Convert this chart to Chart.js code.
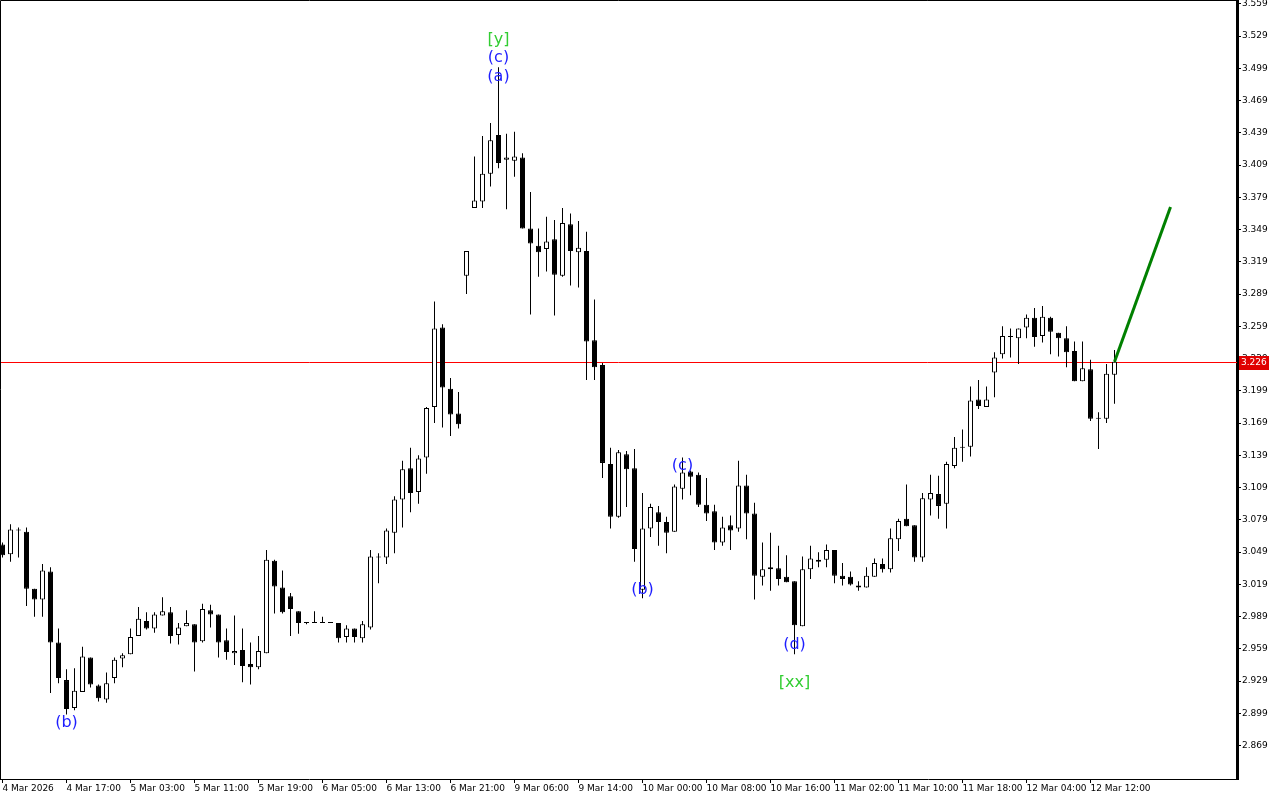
<!DOCTYPE html>
<html>
<head>
<meta charset="utf-8">
<script src="https://cdn.jsdelivr.net/npm/chart.js@4.4.1/dist/chart.umd.min.js"></script>
<style>
html,body{margin:0;padding:0;background:#ffffff;}
#wrap{width:1280px;height:800px;}
</style>
</head>
<body>
<div id="wrap"><canvas id="myChart" width="1280" height="800"></canvas></div>
<script>
//1時間足のローソク足データ（左から順番）
var open_values = [3.056,3.047,3.069,3.068,3.015,3.005,3.031,2.965,2.930,2.904,2.919,2.951,2.925,2.912,2.932,2.950,2.954,2.971,2.985,2.978,
    2.990,2.993,2.972,2.980,2.982,2.966,2.995,2.991,2.967,2.955,2.958,2.945,2.942,2.955,3.041,3.016,3.008,2.994,2.983,2.983,
    2.983,2.983,2.983,2.970,2.978,2.969,2.979,3.045,3.044,3.067,3.098,3.127,3.105,3.137,3.184,3.258,3.201,3.178,3.306,3.369,
    3.375,3.401,3.437,3.414,3.413,3.416,3.350,3.334,3.331,3.340,3.306,3.354,3.328,3.329,3.246,3.223,3.131,3.082,3.140,3.127,
    3.014,3.071,3.086,3.077,3.068,3.108,3.124,3.121,3.093,3.087,3.058,3.074,3.071,3.111,3.085,3.026,3.033,3.034,3.026,3.022,
    2.980,3.033,3.042,3.042,3.051,3.027,3.026,3.018,3.016,3.026,3.038,3.033,3.061,3.080,3.074,3.044,3.098,3.103,3.094,3.129,
    3.147,3.147,3.191,3.184,3.216,3.233,3.249,3.248,3.258,3.267,3.250,3.267,3.253,3.248,3.236,3.208,3.219,3.173,3.173,3.214];
var high_values = [3.058,3.075,3.072,3.072,3.015,3.038,3.035,2.978,2.940,2.941,2.961,2.951,2.926,2.937,2.951,2.955,2.978,2.998,2.993,2.993,
    3.007,2.998,2.983,2.995,2.982,3.001,3.000,2.991,2.978,2.990,2.978,2.965,2.971,3.051,3.042,3.032,3.011,2.994,2.983,2.994,
    2.989,2.983,2.983,2.981,2.978,2.985,3.051,3.048,3.071,3.101,3.134,3.146,3.139,3.184,3.282,3.261,3.211,3.198,3.329,3.417,
    3.436,3.448,3.500,3.438,3.440,3.420,3.384,3.350,3.361,3.358,3.369,3.364,3.357,3.347,3.284,3.225,3.146,3.144,3.143,3.145,
    3.104,3.094,3.092,3.082,3.112,3.137,3.125,3.123,3.118,3.093,3.082,3.083,3.134,3.121,3.095,3.058,3.067,3.055,3.046,3.022,
    3.045,3.055,3.049,3.056,3.051,3.039,3.031,3.022,3.035,3.043,3.043,3.071,3.080,3.112,3.074,3.104,3.121,3.120,3.133,3.156,
    3.163,3.203,3.209,3.203,3.235,3.259,3.257,3.257,3.270,3.276,3.278,3.268,3.253,3.259,3.245,3.245,3.228,3.179,3.224,3.237];
var low_values = [3.044,3.040,3.044,2.999,2.989,2.989,2.918,2.927,2.898,2.902,2.919,2.923,2.910,2.909,2.927,2.942,2.954,2.971,2.977,2.974,
    2.990,2.964,2.963,2.980,2.938,2.965,2.979,2.951,2.949,2.944,2.928,2.926,2.940,2.955,2.992,2.992,2.971,2.973,2.982,2.983,
    2.983,2.983,2.965,2.965,2.965,2.965,2.977,3.020,3.038,3.048,3.072,3.086,3.094,3.122,3.169,3.165,3.157,3.164,3.289,3.369,
    3.369,3.389,3.406,3.368,3.398,3.350,3.270,3.305,3.310,3.269,3.305,3.297,3.295,3.209,3.209,3.118,3.071,3.081,3.091,3.040,
    3.006,3.063,3.055,3.048,3.068,3.098,3.102,3.091,3.078,3.051,3.055,3.051,3.068,3.061,3.005,3.018,3.013,3.018,3.021,2.954,
    2.980,3.024,3.035,3.035,3.020,3.018,3.018,3.013,3.016,3.026,3.030,3.030,3.050,3.073,3.040,3.040,3.083,3.080,3.071,3.127,
    3.133,3.138,3.182,3.184,3.193,3.229,3.230,3.224,3.248,3.240,3.244,3.233,3.231,3.221,3.208,3.208,3.171,3.145,3.169,3.187];
var close_values = [3.046,3.070,3.069,3.015,3.005,3.032,2.965,2.932,2.903,2.920,2.952,2.926,2.913,2.927,2.949,2.953,2.970,2.987,2.978,2.991,
    2.994,2.971,2.979,2.983,2.965,2.996,2.991,2.965,2.956,2.957,2.943,2.942,2.957,3.042,3.017,2.993,2.996,2.983,2.983,2.983,
    2.983,2.983,2.969,2.978,2.970,2.982,3.045,3.044,3.069,3.098,3.126,3.104,3.136,3.183,3.257,3.202,3.177,3.168,3.329,3.376,
    3.401,3.432,3.411,3.416,3.417,3.350,3.336,3.328,3.338,3.307,3.355,3.329,3.332,3.245,3.221,3.132,3.082,3.142,3.126,3.052,
    3.071,3.091,3.077,3.067,3.110,3.123,3.119,3.093,3.085,3.058,3.072,3.069,3.111,3.085,3.027,3.033,3.035,3.024,3.021,2.981,
    3.033,3.043,3.040,3.051,3.027,3.024,3.019,3.016,3.027,3.039,3.033,3.062,3.078,3.073,3.044,3.099,3.104,3.092,3.131,3.146,
    3.146,3.190,3.185,3.191,3.230,3.250,3.249,3.257,3.267,3.249,3.268,3.254,3.248,3.235,3.208,3.220,3.173,3.173,3.215,3.226];

//横軸の目盛り（ローソク足の番号とラベル）
var x_tick_index = [0,8,16,24,32,40,48,56,64,72,80,88,96,104,112,120,128,136];
var x_tick_labels = ['4 Mar 2026','4 Mar 17:00','5 Mar 03:00','5 Mar 11:00','5 Mar 19:00','6 Mar 05:00','6 Mar 13:00','6 Mar 21:00',
    '9 Mar 06:00','9 Mar 14:00','10 Mar 00:00','10 Mar 08:00','10 Mar 16:00','11 Mar 02:00','11 Mar 10:00','11 Mar 18:00',
    '12 Mar 04:00','12 Mar 12:00'];
//縦軸の目盛り
var y_tick_values = [3.559,3.529,3.499,3.469,3.439,3.409,3.379,3.349,3.319,3.289,3.259,3.229,3.199,3.169,3.139,3.109,
    3.079,3.049,3.019,2.989,2.959,2.929,2.899,2.869];

//現在値のライン
var current_price = 3.226;
//予想の矢印（緑）
var forecast_index = [139, 146];
var forecast_values = [3.226, 3.370];

//波動のラベル
var wave_label_texts = ['(b)','[y]','(c)','(a)','(b)','(c)','(d)','[xx]'];
var wave_label_index = [8, 62, 62, 62, 80, 85, 99, 99];
var wave_label_values = [2.890, 3.525, 3.509, 3.491, 3.014, 3.129, 2.963, 2.927];
var wave_label_kind = ['sub','main','sub','sub','sub','sub','sub','main'];

//軸の範囲
var x_min = -0.3125;
var x_max = 154.3125;
var y_min = 2.838;
var y_max = 3.5625;

var tick_font = {family: 'DejaVu Sans', size: 9};

//ローソク足を作る
var wick_data = [];
var body_data = [];
var body_colors = [];
for (var i = 0; i < open_values.length; i++) {
    wick_data.push({x: i, y: [low_values[i], high_values[i]]});
    body_data.push({x: i, y: [open_values[i], close_values[i]]});
    body_colors.push(close_values[i] > open_values[i] ? '#ffffff' : '#000000');
}

//現在値ラインはローソクの後ろに描く
var price_line_plugin = {
    id: 'price_line',
    beforeDatasetsDraw: function(chart) {
        var ctx = chart.ctx;
        var area = chart.chartArea;
        var py = Math.round(chart.scales.y.getPixelForValue(current_price)) + 0.5;
        ctx.save();
        ctx.strokeStyle = '#ff0000';
        ctx.lineWidth = 1;
        ctx.beginPath();
        ctx.moveTo(area.left, py);
        ctx.lineTo(area.right, py);
        ctx.stroke();
        ctx.restore();
    }
};

//枠とラベルを描くプラグイン
var overlay_plugin = {
    id: 'overlay',
    afterDraw: function(chart) {
        var ctx = chart.ctx;
        var area = chart.chartArea;
        var xs = chart.scales.x;
        var ys = chart.scales.y;
        ctx.save();
        //左と上の枠
        ctx.strokeStyle = '#000000';
        ctx.lineWidth = 1;
        ctx.beginPath();
        ctx.moveTo(0.5, area.bottom);
        ctx.lineTo(0.5, 0.5);
        ctx.lineTo(area.right, 0.5);
        ctx.stroke();
        //現在値のタグ
        var py = Math.round(ys.getPixelForValue(current_price)) + 0.5;
        ctx.fillStyle = '#e00000';
        ctx.fillRect(area.right + 2, Math.round(py) - 7, 30, 14);
        ctx.fillStyle = '#ffffff';
        ctx.font = '9px "DejaVu Sans"';
        ctx.textAlign = 'left';
        ctx.textBaseline = 'middle';
        ctx.fillText(current_price.toFixed(3), area.right + 4, py);
        //波動ラベル
        ctx.font = '16px "DejaVu Sans"';
        ctx.textAlign = 'center';
        for (var k = 0; k < wave_label_texts.length; k++) {
            ctx.fillStyle = wave_label_kind[k] == 'main' ? '#32cd32' : '#1e1eff';
            ctx.fillText(wave_label_texts[k], xs.getPixelForValue(wave_label_index[k]), ys.getPixelForValue(wave_label_values[k]));
        }
        ctx.restore();
    }
};

var ctx = document.getElementById('myChart');
var candle_chart = new Chart(ctx, {
    type: 'bar',
    data: {
        datasets: [{
            data: wick_data,
            backgroundColor: '#000000',
            borderWidth: 0,
            barThickness: 1,
            grouped: false,
            inflateAmount: 0,
            order: 2
        }, {
            data: body_data,
            backgroundColor: body_colors,
            borderColor: '#000000',
            borderWidth: 1,
            borderSkipped: false,
            barThickness: 5,
            minBarLength: 1,
            grouped: false,
            inflateAmount: 0,
            order: 1
        }, {
            type: 'line',
            data: [{x: forecast_index[0], y: forecast_values[0]}, {x: forecast_index[1], y: forecast_values[1]}],
            borderColor: '#008000',
            borderWidth: 3,
            pointRadius: 0,
            order: 0
        }]
    },
    options: {
        responsive: false,
        animation: false,
        devicePixelRatio: 1,
        layout: {padding: 0},
        plugins: {
            legend: {display: false},
            tooltip: {enabled: false}
        },
        scales: {
            x: {
                type: 'linear',
                min: x_min,
                max: x_max,
                offset: false,
                bounds: 'data',
                grid: {drawOnChartArea: false, drawTicks: true, tickLength: 4, color: '#000000', offset: false},
                border: {display: true, color: '#000000', width: 1},
                ticks: {
                    align: 'start',
                    padding: 0,
                    color: '#000000',
                    font: tick_font,
                    maxRotation: 0,
                    autoSkip: false,
                    callback: function(v, idx) { return x_tick_labels[idx]; }
                },
                afterBuildTicks: function(scale) {
                    scale.ticks = x_tick_index.map(function(v) { return {value: v}; });
                },
                afterFit: function(scale) {
                    scale.height = 21;
                    scale.paddingLeft = 0;
                    scale.paddingRight = 0;
                }
            },
            y: {
                type: 'linear',
                position: 'right',
                min: y_min,
                max: y_max,
                bounds: 'data',
                grid: {drawOnChartArea: false, drawTicks: true, tickLength: 4, color: '#000000'},
                border: {display: true, color: '#000000', width: 3},
                ticks: {
                    padding: 1,
                    color: '#000000',
                    font: tick_font,
                    autoSkip: false,
                    callback: function(v) { return Number(v).toFixed(3); }
                },
                afterBuildTicks: function(scale) {
                    scale.ticks = y_tick_values.map(function(v) { return {value: v}; });
                },
                afterFit: function(scale) {
                    scale.width = 43;
                    scale.paddingTop = 0;
                    scale.paddingBottom = 0;
                }
            }
        }
    },
    plugins: [price_line_plugin, overlay_plugin]
});
</script>
</body>
</html>
